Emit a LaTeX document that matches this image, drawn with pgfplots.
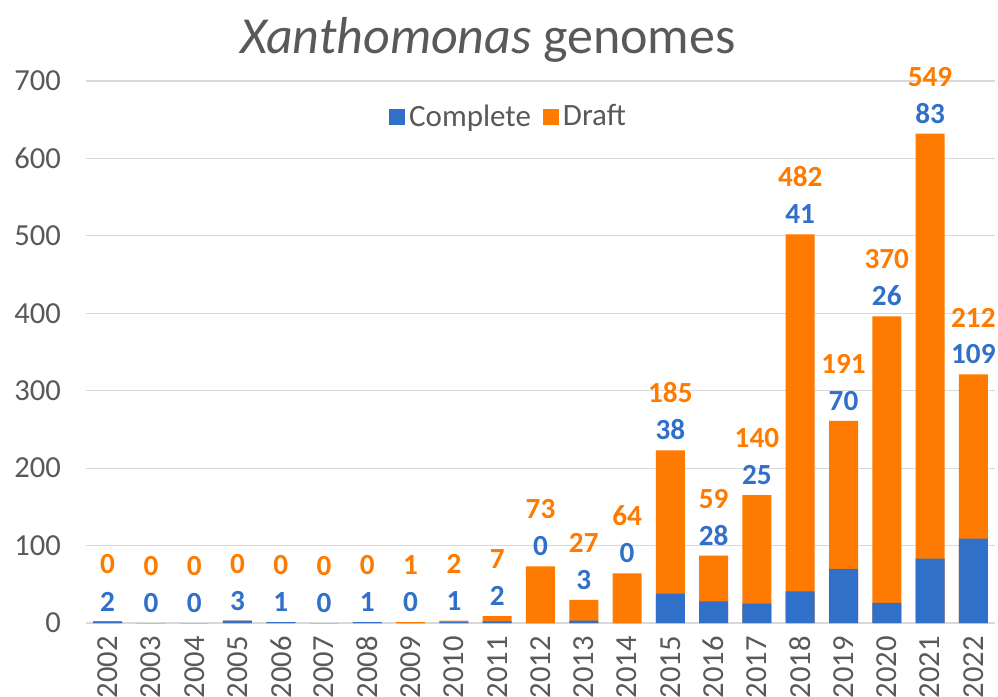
\documentclass[border=0pt]{standalone}
\usepackage{fontspec}
\setmainfont{Carlito}
\usepackage{pgfplots}
\usepackage{pgfplotstable}
\pgfplotsset{compat=1.18}
\definecolor{cblue}{RGB}{48,112,200}
\definecolor{corange}{RGB}{255,122,0}
\definecolor{tgray}{RGB}{89,89,89}
\definecolor{ggray}{RGB}{217,217,217}
% C = complete, T = bar top (complete + draft as drawn), Dlab = draft label
\pgfplotstableread{
year C T Dlab
2002 2 2 0
2003 0 0 0
2004 0 0 0
2005 3 3 0
2006 1 1 0
2007 0 0 0
2008 1 1 0
2009 0 1 1
2010 1 3 2
2011 2 9 7
2012 0 73 73
2013 3 30 27
2014 0 64 64
2015 38 223 185
2016 28 87 59
2017 25 165 140
2018 41 502 482
2019 70 261 191
2020 26 396 370
2021 83 632 549
2022 109 321 212
}\datatable
\begin{document}
\begin{tikzpicture}
\path[use as bounding box] (-43pt,-37pt) rectangle (456pt,311.5pt);
\begin{axis}[
  name=ax, at={(0,0)}, anchor=south west,
  scale only axis, width=454.5pt, height=271pt,
  ybar, bar width=14.5pt, bar shift=0pt,
  xmin=2001.5, xmax=2022.5, ymin=0, ymax=700,
  xtick=data, ytick={0,100,...,700},
  axis line style={draw=none},
  major tick length=0pt,
  ymajorgrids, grid style={ggray, line width=0.6pt},
  /pgf/number format/assume math mode=true,
  /pgf/number format/1000 sep={},
  ticklabel style={font=\fontsize{15.3}{17}\selectfont, text=tgray},
  yticklabel style={xshift=-9pt},
  xticklabel style={rotate=90, anchor=east},
  xticklabel shift=3pt,
  legend style={at={(0.466,0.934)}, anchor=center, draw=none, fill=none,
    legend columns=2, font=\fontsize{15.5}{17}\selectfont, text=tgray,
    /tikz/every even column/.append style={column sep=4pt}},
  legend image code/.code={\fill[#1] (0pt,-4pt) rectangle (8pt,4pt);},
  clip=false,
]
\addlegendimage{fill=cblue, draw=none}
\addlegendentry{Complete}
\addlegendimage{fill=corange, draw=none}
\addlegendentry{Draft}
\addplot[fill=corange, draw=none, bar shift=0pt, forget plot] table[x=year, y=T] {\datatable};
\addplot[fill=cblue, draw=none, bar shift=0pt, forget plot] table[x=year, y=C] {\datatable};
\addplot[draw=none, fill=none, bar shift=0pt, forget plot,
  point meta=explicit symbolic, nodes near coords,
  every node near coord/.append style={anchor=south, inner sep=0pt, yshift=5pt,
    text=cblue, font=\bfseries\fontsize{14.6}{16}\selectfont}]
  table[x=year, y=T, meta=C] {\datatable};
\addplot[draw=none, fill=none, bar shift=0pt, forget plot,
  point meta=explicit symbolic, nodes near coords,
  every node near coord/.append style={anchor=south, inner sep=0pt, yshift=23.5pt,
    text=corange, font=\bfseries\fontsize{14.6}{16}\selectfont}]
  table[x=year, y=T, meta=Dlab] {\datatable};
\end{axis}
\node[text=tgray, font=\fontsize{26}{30}\selectfont] at (201pt,291.5pt) {\textit{Xanthomonas} genomes};
\end{tikzpicture}
\end{document}
